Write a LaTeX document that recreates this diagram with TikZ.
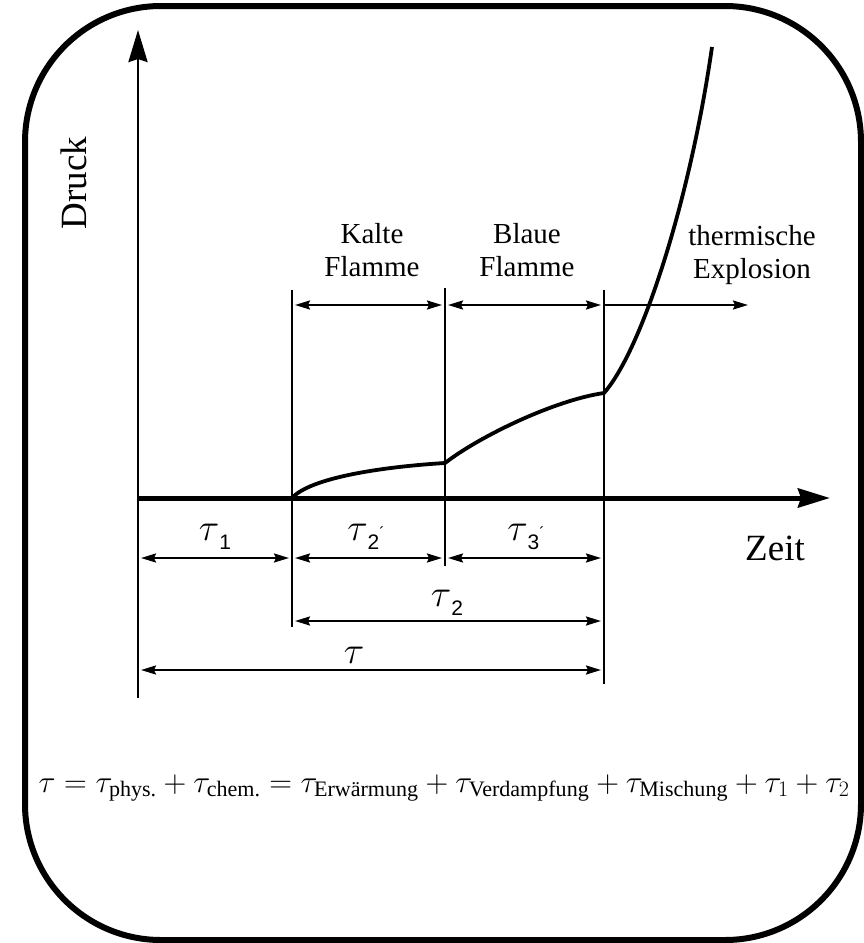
\RequirePackage{fix-cm}
\documentclass[tikz,border=0pt]{standalone}
\usepackage{amsmath}
\usepackage{fontspec}
\setmainfont{Liberation Serif}
\setsansfont{Liberation Sans}
\usetikzlibrary{arrows.meta, positioning}

% tau with a sans subscript and optional prime
\newcommand{\tausub}[2]{$\tau$\raisebox{-9pt}{\fontsize{21}{21}\selectfont\sffamily #1}\raisebox{2pt}{\fontsize{16}{16}\selectfont\sffamily #2}}

\begin{document}
\begin{tikzpicture}[
    x=1pt, y=-1pt,
    frame/.style={line width=6pt, rounded corners=136pt},
    axis/.style={-{Stealth[length=32pt, width=19pt, inset=3pt]}},
    guide/.style={line width=2.6pt},
    dim/.style={{Stealth[length=15pt, width=9pt, inset=2pt]}-{Stealth[length=15pt, width=9pt, inset=2pt]}, line width=2.2pt, shorten <=3pt, shorten >=3pt},
    ray/.style={-{Stealth[length=15pt, width=9pt, inset=2pt]}, line width=2.2pt},
    curve/.style={line width=3.8pt},
    lbl/.style={align=center, font=\fontsize{29}{33}\selectfont, inner sep=0pt},
    axlbl/.style={font=\fontsize{37}{40}\selectfont, inner sep=0pt},
    taulbl/.style={font=\fontsize{38}{40}\selectfont, inner sep=0pt}
  ]
    \useasboundingbox (0,0) rectangle (864,943);
    \draw[frame] (25,6) rectangle (861,940);

    % axes
    \coordinate (O) at (138,498);
    \coordinate (ytop) at (138,30);
    \coordinate (ybot) at (138,698);
    \coordinate (xend) at (830,498);
    \draw[axis, line width=2.8pt] (ybot) -- (ytop);
    \draw[axis, line width=5pt] (O) -- (xend);

    % phase borders
    \coordinate (t1) at (292,498);
    \coordinate (t2) at (445,498);
    \coordinate (t3) at (604,498);
    \draw[guide] (292,290) -- (292,627);
    \draw[guide] (445,288) -- (445,566);
    \draw[guide] (604,290) -- (604,684);

    % pressure curve
    \draw[curve] (t1) .. controls (310,478) and (380,467) .. (445,463)
      .. controls (480,436) and (555,400) .. (604,393)
      .. controls (642,350) and (690,200) .. (712,47);

    % upper phases
    \coordinate (k1) at (292,305);
    \coordinate (k2) at (445,305);
    \coordinate (k3) at (604,305);
    \coordinate (k4) at (748,305);
    \draw[dim] (k1) -- (k2);
    \draw[dim] (k2) -- (k3);
    \draw[ray] (k3) -- (k4);
    \node[lbl] (kalte) at (372,250) {Kalte\\Flamme};
    \node[lbl] (blaue) at (527,250) {Blaue\\Flamme};
    \node[lbl] (thermisch) at (752,255) {thermische\\Explosion};

    % lower time spans
    \coordinate (a0) at (138,558);
    \coordinate (a1) at (292,558);
    \coordinate (a2) at (445,558);
    \coordinate (a3) at (604,558);
    \coordinate (b1) at (292,621);
    \coordinate (b3) at (604,621);
    \coordinate (c0) at (138,670);
    \coordinate (c3) at (604,670);
    \draw[dim] (a0) -- (a1);
    \draw[dim] (a1) -- (a2);
    \draw[dim] (a2) -- (a3);
    \draw[dim] (b1) -- (b3);
    \draw[dim] (c0) -- (c3);
    \node[taulbl] (tau1) at (215,537) {\tausub{1}{}};
    \node[taulbl] (tau2s) at (366,537) {\tausub{2}{´}};
    \node[taulbl] (tau3s) at (526,537) {\tausub{3}{´}};
    \node[taulbl] (tau2) at (447,603) {\tausub{2}{}};
    \node[taulbl] (tau) at (354,655) {$\tau$};

    \node[axlbl] (zeit) at (775,548) {Zeit};
    \node[axlbl, rotate=90] (druck) at (74,183) {Druck};

    \node[font=\fontsize{31.5}{34}\selectfont, inner sep=0pt] (formel) at (444,788)
      {$\tau = \tau_{\text{phys.}} + \tau_{\text{chem.}} = \tau_{\text{Erwärmung}} + \tau_{\text{Verdampfung}} + \tau_{\text{Mischung}} + \tau_1 + \tau_2$};
  \end{tikzpicture}
\end{document}
